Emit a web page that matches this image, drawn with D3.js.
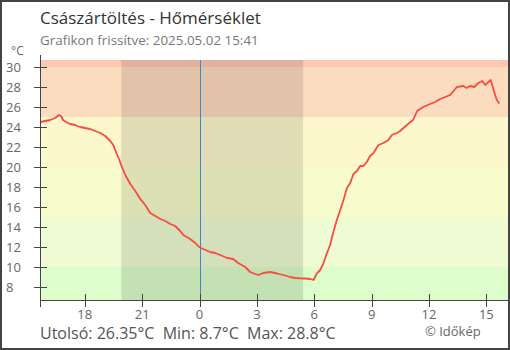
<!DOCTYPE html>
<html><head><meta charset="utf-8">
<script src="https://cdn.jsdelivr.net/npm/d3@7"></script>
<style>
html,body{margin:0;padding:0;background:#fff;}
svg{display:block;font-family:"Open Sans",sans-serif;}
</style></head>
<body><svg id="c" width="510" height="350"></svg>
<script>
// hours relative to midnight 2025-05-02 (negative = 2025-05-01)
const hours = [-8.31,-8.07,-7.81,-7.55,-7.35,-7.24,-7.14,-6.98,-6.77,-6.51,-6.25,-5.99,-5.73,-5.45,-5.19,-4.93,-4.67,-4.51,-4.35,-4.19,-4.08,-3.88,-3.62,-3.36,-3.10,-2.84,-2.58,-2.31,-2.05,-1.79,-1.53,-1.27,-1.01,-0.85,-0.49,-0.22,-0.02,0.19,0.56,0.82,1.08,1.45,1.76,2.02,2.39,2.65,2.91,3.07,3.33,3.70,4.06,4.38,4.74,5.00,5.26,5.52,5.79,5.96,6.14,6.31,6.48,6.66,6.83,7.00,7.18,7.36,7.53,7.71,7.88,8.05,8.23,8.40,8.57,8.75,8.92,9.10,9.36,9.62,9.88,10.06,10.32,10.49,10.84,11.17,11.38,11.70,12.06,12.32,12.59,12.85,13.11,13.46,13.80,13.97,14.15,14.37,14.58,14.79,14.94,15.11,15.23,15.34,15.46,15.55,15.68];
const temps = [24.5,24.6,24.7,24.9,25.2,25.1,24.7,24.5,24.3,24.2,24.0,23.9,23.8,23.6,23.4,23.1,22.6,22.2,21.4,20.7,20.1,19.2,18.3,17.6,16.8,16.2,15.4,15.1,14.8,14.6,14.3,14.1,13.6,13.2,12.8,12.4,12.0,11.8,11.5,11.4,11.2,10.9,10.8,10.4,10.0,9.5,9.3,9.2,9.4,9.5,9.35,9.2,9.0,8.9,8.87,8.85,8.8,8.7,9.37,9.7,10.37,11.37,12.2,13.5,14.7,15.7,16.7,17.9,18.4,19.3,19.6,20.1,20.1,20.5,21.1,21.4,22.2,22.4,22.7,23.2,23.4,23.6,24.2,24.7,25.6,26.0,26.3,26.5,26.8,27.0,27.2,28.0,28.1,27.9,28.1,28.0,28.4,28.6,28.2,28.5,28.7,28.0,27.2,26.7,26.35];
const xTickHours = [-6,-3,0,3,6,9,12,15];
const xTickLabels = ["18","21","0","3","6","9","12","15"];
const yTicks = [8,10,12,14,16,18,20,22,24,26,28,30];
const bandEdges = [6.7,10,15,20,25,30,30.7];
const bandColors = ["#ddfdcb","#effcd3","#f8fccc","#fdf7cd","#fcdcbf","#fec7b4"];
const night = [-4.09, 5.42];
const title = "Császártöltés - Hőmérséklet";
const subtitle = "Grafikon frissítve: 2025.05.02 15:41";
const footer = "Utolsó: 26.35°C  Min: 8.7°C  Max: 28.8°C";
const credit = "© Időkép";

const svg = d3.select("#c");
const L=40.5, R=508, T=60, B=300;
const x = d3.scaleLinear().domain([-8.317,16.133]).range([L,R]);
const y = d3.scaleLinear().domain([6.7,30.7]).range([B,T]);

// bands
svg.append("g").selectAll("rect").data(bandColors).join("rect")
  .attr("x",L).attr("width",R-L)
  .attr("y",(d,i)=>y(bandEdges[i+1])).attr("height",(d,i)=>y(bandEdges[i])-y(bandEdges[i+1]))
  .attr("fill",d=>d);
// night
svg.append("rect").attr("x",x(night[0])).attr("width",x(night[1])-x(night[0]))
  .attr("y",T).attr("height",B-T).attr("fill","#000").attr("fill-opacity",0.11);
// midnight line
svg.append("line").attr("x1",Math.round(x(0))+0.5).attr("x2",Math.round(x(0))+0.5)
  .attr("y1",T).attr("y2",B).attr("stroke","#3b8bcb").attr("stroke-width",1);

// line
const data = hours.map((h,i)=>[h,temps[i]]);
svg.append("path").datum(data)
  .attr("d",d3.line().x(d=>x(d[0])).y(d=>y(d[1])))
  .attr("fill","none").attr("stroke","#f94b3f").attr("stroke-width",1.8).attr("stroke-linejoin","round");

// axes
const ax = "#444";
svg.append("line").attr("x1",L).attr("x2",L).attr("y1",T-5).attr("y2",B+7).attr("stroke",ax);
svg.append("line").attr("x1",L).attr("x2",R).attr("y1",B+0.5).attr("y2",B+0.5).attr("stroke",ax);
const yg = svg.append("g");
yg.selectAll("line").data(yTicks).join("line")
  .attr("x1",34).attr("x2",47).attr("y1",d=>Math.round(y(d))+0.5).attr("y2",d=>Math.round(y(d))+0.5).attr("stroke",ax);
yg.selectAll("text").data(yTicks).join("text")
  .attr("x",6).attr("y",d=>y(d)).attr("dy","0.36em")
  .attr("font-size",13).attr("fill","#666").text(d=>d);
svg.append("text").attr("x",11).attr("y",55).attr("font-size",12).attr("fill","#666").text("°C");
const xg = svg.append("g");
xg.selectAll("line").data(xTickHours).join("line")
  .attr("x1",d=>Math.round(x(d))+0.5).attr("x2",d=>Math.round(x(d))+0.5).attr("y1",294).attr("y2",307).attr("stroke",ax);
xg.selectAll("text").data(xTickHours).join("text")
  .attr("x",d=>x(d)).attr("y",319).attr("text-anchor","middle")
  .attr("font-size",13).attr("fill","#666").text((d,i)=>xTickLabels[i]);

// texts
svg.append("text").attr("x",40).attr("y",24).attr("font-size",17).attr("fill","#333").text(title);
svg.append("text").attr("x",40).attr("y",45).attr("font-size",13.4).attr("fill","#777").text(subtitle);
svg.append("text").attr("x",40).attr("y",339).attr("font-size",16).attr("fill","#555").attr("xml:space","preserve").style("white-space","pre").text(footer);
svg.append("text").attr("x",425).attr("y",336).attr("font-size",13).attr("fill","#666").text(credit);

// border
svg.append("rect").attr("x",1).attr("y",1).attr("width",508).attr("height",348)
  .attr("fill","none").attr("stroke","#444").attr("stroke-width",2);
</script></body></html>
